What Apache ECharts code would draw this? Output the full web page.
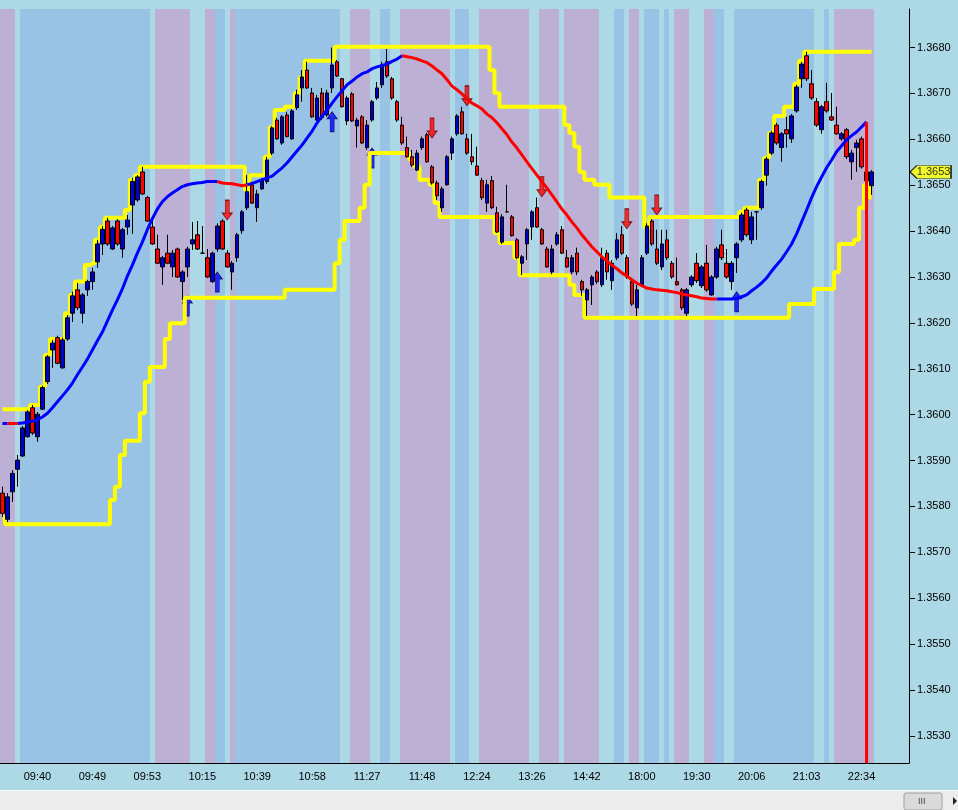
<!DOCTYPE html>
<html><head><meta charset="utf-8">
<script src="https://cdn.jsdelivr.net/npm/echarts@6/dist/echarts.min.js"></script>
<style>html,body{margin:0;padding:0;background:#ADD8E6;}#c{width:958px;height:810px;}</style>
</head><body><div id="c"></div>
<script>
// ---------------- data ----------------
const tickLabels = ['09:40','09:49','09:53','10:15','10:39','10:58','11:27','11:48','12:24','13:26','14:42','18:00','19:30','20:06','21:03','22:34'];
const tickIndex  = [7,18,29,40,51,62,73,84,95,106,117,128,139,150,161,172];
const slotCount = 182;
const yTicks = [1.353,1.354,1.355,1.356,1.357,1.358,1.359,1.360,1.361,1.362,1.363,1.364,1.365,1.366,1.367,1.368];
const yMin = 1.35241, yMax = 1.36884;

const opens = [
1.35829,1.35772,1.35832,1.35881,1.35910,1.35952,1.36015,1.35952,1.36012,1.36072,
1.36141,1.36168,1.36102,1.36165,1.36221,1.36272,1.36221,1.36272,1.36290,1.36333,
1.36372,1.36422,1.36361,1.36422,1.36361,1.36409,1.36457,1.36468,1.36529,1.36473,
1.36409,1.36361,1.36322,1.36352,1.36322,1.36361,1.36290,1.36322,1.36372,1.36392,
1.36352,1.36342,1.36290,1.36361,1.36422,1.36352,1.36311,1.36342,1.36401,1.36451,
1.36501,1.36451,1.36492,1.36508,1.36570,1.36642,1.36592,1.36653,1.36601,1.36669,
1.36712,1.36751,1.36701,1.36642,1.36701,1.36653,1.36712,1.36769,1.36732,1.36640,
1.36699,1.36629,1.36649,1.36582,1.36642,1.36690,1.36719,1.36769,1.36732,1.36682,
1.36631,1.36582,1.36562,1.36533,1.36582,1.36610,1.36540,1.36505,1.36451,1.36501,
1.36570,1.36612,1.36660,1.36601,1.36562,1.36542,1.36510,1.36461,1.36510,1.36440,
1.36376,1.36442,1.36431,1.36381,1.36330,1.36372,1.36409,1.36451,1.36403,1.36361,
1.36311,1.36372,1.36403,1.36342,1.36311,1.36352,1.36290,1.36250,1.36283,1.36311,
1.36283,1.36352,1.36292,1.36342,1.36392,1.36342,1.36290,1.36233,1.36283,1.36352,
1.36422,1.36361,1.36322,1.36381,1.36330,1.36290,1.36272,1.36221,1.36283,1.36330,
1.36281,1.36330,1.36261,1.36300,1.36370,1.36330,1.36290,1.36342,1.36381,1.36446,
1.36381,1.36442,1.36451,1.36522,1.36570,1.36631,1.36582,1.36621,1.36601,1.36662,
1.36732,1.36782,1.36721,1.36682,1.36621,1.36682,1.36649,1.36631,1.36601,1.36621,
1.36551,1.36582,1.36601,1.36529,1.36499];
const highs = [
1.35843,1.35829,1.35879,1.35912,1.35975,1.36010,1.36021,1.36006,1.36063,1.36130,
1.36163,1.36172,1.36168,1.36217,1.36268,1.36287,1.36265,1.36294,1.36320,1.36381,
1.36411,1.36429,1.36411,1.36426,1.36407,1.36435,1.36516,1.36522,1.36540,1.36477,
1.36429,1.36392,1.36346,1.36392,1.36359,1.36364,1.36315,1.36366,1.36420,1.36422,
1.36411,1.36361,1.36355,1.36417,1.36426,1.36359,1.36335,1.36396,1.36446,1.36522,
1.36508,1.36490,1.36516,1.36562,1.36629,1.36647,1.36653,1.36660,1.36666,1.36708,
1.36751,1.36769,1.36712,1.36697,1.36712,1.36708,1.36800,1.36773,1.36734,1.36695,
1.36703,1.36647,1.36653,1.36642,1.36686,1.36725,1.36769,1.36797,1.36736,1.36686,
1.36649,1.36606,1.36577,1.36577,1.36606,1.36614,1.36544,1.36510,1.36497,1.36566,
1.36606,1.36655,1.36671,1.36612,1.36612,1.36584,1.36516,1.36512,1.36520,1.36453,
1.36437,1.36501,1.36435,1.36385,1.36348,1.36407,1.36446,1.36473,1.36407,1.36366,
1.36370,1.36398,1.36411,1.36359,1.36348,1.36364,1.36294,1.36276,1.36304,1.36315,
1.36364,1.36359,1.36337,1.36396,1.36411,1.36348,1.36294,1.36283,1.36348,1.36417,
1.36426,1.36403,1.36403,1.36403,1.36335,1.36342,1.36276,1.36276,1.36304,1.36352,
1.36326,1.36370,1.36304,1.36366,1.36403,1.36361,1.36335,1.36376,1.36440,1.36451,
1.36442,1.36444,1.36512,1.36562,1.36618,1.36636,1.36616,1.36649,1.36655,1.36719,
1.36769,1.36791,1.36751,1.36690,1.36675,1.36723,1.36701,1.36671,1.36616,1.36625,
1.36577,1.36599,1.36606,1.36533,1.36533];
const lows = [
1.35777,1.35766,1.35810,1.35843,1.35908,1.35950,1.35956,1.35941,1.36010,1.36067,
1.36102,1.36110,1.36100,1.36161,1.36202,1.36228,1.36199,1.36259,1.36272,1.36320,
1.36348,1.36368,1.36359,1.36368,1.36342,1.36392,1.36394,1.36464,1.36479,1.36420,
1.36370,1.36328,1.36283,1.36328,1.36300,1.36298,1.36250,1.36300,1.36359,1.36359,
1.36350,1.36298,1.36287,1.36355,1.36359,1.36320,1.36272,1.36333,1.36394,1.36446,
1.36459,1.36420,1.36490,1.36503,1.36566,1.36599,1.36588,1.36604,1.36599,1.36664,
1.36682,1.36710,1.36647,1.36640,1.36642,1.36649,1.36701,1.36736,1.36669,1.36631,
1.36638,1.36582,1.36590,1.36577,1.36638,1.36686,1.36712,1.36734,1.36686,1.36638,
1.36588,1.36560,1.36540,1.36531,1.36577,1.36549,1.36501,1.36468,1.36442,1.36499,
1.36555,1.36608,1.36610,1.36566,1.36544,1.36520,1.36468,1.36442,1.36448,1.36396,
1.36372,1.36440,1.36388,1.36339,1.36304,1.36337,1.36381,1.36407,1.36370,1.36320,
1.36306,1.36368,1.36350,1.36320,1.36306,1.36304,1.36259,1.36215,1.36239,1.36285,
1.36278,1.36294,1.36272,1.36337,1.36348,1.36296,1.36237,1.36215,1.36278,1.36348,
1.36368,1.36326,1.36315,1.36337,1.36296,1.36281,1.36228,1.36215,1.36278,1.36287,
1.36276,1.36268,1.36259,1.36296,1.36337,1.36296,1.36272,1.36309,1.36376,1.36388,
1.36372,1.36381,1.36446,1.36499,1.36566,1.36588,1.36551,1.36582,1.36592,1.36658,
1.36712,1.36727,1.36686,1.36627,1.36612,1.36658,1.36640,1.36610,1.36597,1.36557,
1.36512,1.36529,1.36536,1.36505,1.36479];
const closes = [
1.35785,1.35821,1.35872,1.35901,1.35971,1.36006,1.35960,1.36001,1.36059,1.36126,
1.36156,1.36112,1.36163,1.36211,1.36259,1.36233,1.36261,1.36290,1.36311,1.36372,
1.36404,1.36372,1.36407,1.36372,1.36403,1.36424,1.36508,1.36518,1.36481,1.36422,
1.36372,1.36330,1.36342,1.36330,1.36352,1.36300,1.36311,1.36361,1.36381,1.36361,
1.36352,1.36300,1.36352,1.36411,1.36361,1.36322,1.36330,1.36392,1.36442,1.36486,
1.36461,1.36481,1.36512,1.36555,1.36625,1.36601,1.36649,1.36606,1.36662,1.36697,
1.36736,1.36712,1.36649,1.36690,1.36647,1.36701,1.36762,1.36738,1.36671,1.36690,
1.36640,1.36642,1.36592,1.36631,1.36682,1.36712,1.36762,1.36738,1.36690,1.36642,
1.36592,1.36562,1.36544,1.36570,1.36601,1.36551,1.36505,1.36477,1.36492,1.36562,
1.36601,1.36651,1.36612,1.36570,1.36551,1.36522,1.36473,1.36501,1.36451,1.36398,
1.36431,1.36442,1.36390,1.36342,1.36344,1.36403,1.36442,1.36409,1.36372,1.36322,
1.36361,1.36392,1.36352,1.36322,1.36342,1.36311,1.36272,1.36272,1.36300,1.36290,
1.36342,1.36311,1.36330,1.36381,1.36352,1.36300,1.36241,1.36272,1.36342,1.36411,
1.36372,1.36330,1.36372,1.36342,1.36300,1.36283,1.36233,1.36272,1.36300,1.36292,
1.36322,1.36272,1.36300,1.36361,1.36342,1.36300,1.36330,1.36372,1.36435,1.36392,
1.36431,1.36442,1.36508,1.36557,1.36614,1.36592,1.36612,1.36612,1.36651,1.36714,
1.36764,1.36732,1.36690,1.36631,1.36671,1.36662,1.36642,1.36612,1.36612,1.36562,
1.36570,1.36592,1.36540,1.36510,1.36529];

const upperBand = [
1.36012,1.36012,1.36012,1.36012,1.36012,1.36012,1.36021,1.36021,1.36061,1.36130,
1.36165,1.36165,1.36165,1.36221,1.36261,1.36290,1.36290,1.36326,1.36330,1.36381,
1.36409,1.36429,1.36429,1.36429,1.36429,1.36446,1.36512,1.36522,1.36540,1.36540,
1.36540,1.36540,1.36540,1.36540,1.36540,1.36540,1.36540,1.36540,1.36540,1.36540,
1.36540,1.36540,1.36540,1.36540,1.36540,1.36540,1.36540,1.36540,1.36540,1.36490,
1.36522,1.36522,1.36522,1.36562,1.36627,1.36664,1.36664,1.36671,1.36671,1.36701,
1.36734,1.36771,1.36771,1.36771,1.36771,1.36771,1.36771,1.36802,1.36802,1.36802,
1.36802,1.36802,1.36802,1.36802,1.36802,1.36802,1.36802,1.36802,1.36802,1.36802,
1.36802,1.36802,1.36802,1.36802,1.36802,1.36802,1.36802,1.36802,1.36802,1.36802,
1.36802,1.36802,1.36802,1.36802,1.36802,1.36802,1.36802,1.36802,1.36751,1.36701,
1.36671,1.36671,1.36671,1.36671,1.36671,1.36671,1.36671,1.36671,1.36671,1.36671,
1.36671,1.36671,1.36671,1.36631,1.36614,1.36584,1.36529,1.36512,1.36512,1.36501,
1.36501,1.36501,1.36473,1.36473,1.36473,1.36473,1.36473,1.36473,1.36473,1.36409,
1.36431,1.36431,1.36431,1.36431,1.36431,1.36431,1.36431,1.36431,1.36431,1.36431,
1.36431,1.36431,1.36431,1.36431,1.36431,1.36431,1.36431,1.36431,1.36442,1.36451,
1.36451,1.36451,1.36512,1.36560,1.36614,1.36651,1.36651,1.36671,1.36671,1.36721,
1.36771,1.36791,1.36791,1.36791,1.36791,1.36791,1.36791,1.36791,1.36791,1.36791,
1.36791,1.36791,1.36791,1.36791,1.36791];
const lowerBand = [
1.35777,1.35761,1.35761,1.35761,1.35761,1.35761,1.35761,1.35761,1.35761,1.35761,
1.35761,1.35761,1.35761,1.35761,1.35761,1.35761,1.35761,1.35761,1.35761,1.35761,
1.35761,1.35761,1.35814,1.35843,1.35912,1.35943,1.35943,1.35943,1.36003,1.36072,
1.36104,1.36104,1.36104,1.36165,1.36199,1.36199,1.36199,1.36255,1.36255,1.36255,
1.36255,1.36255,1.36255,1.36255,1.36255,1.36255,1.36255,1.36255,1.36255,1.36255,
1.36255,1.36255,1.36255,1.36255,1.36255,1.36255,1.36255,1.36272,1.36272,1.36272,
1.36272,1.36272,1.36272,1.36272,1.36272,1.36272,1.36272,1.36330,1.36381,1.36422,
1.36422,1.36422,1.36451,1.36501,1.36570,1.36570,1.36570,1.36570,1.36570,1.36570,
1.36570,1.36570,1.36555,1.36540,1.36512,1.36512,1.36501,1.36461,1.36431,1.36431,
1.36431,1.36431,1.36431,1.36431,1.36431,1.36431,1.36431,1.36431,1.36431,1.36396,
1.36374,1.36374,1.36374,1.36342,1.36304,1.36304,1.36304,1.36304,1.36304,1.36304,
1.36304,1.36304,1.36304,1.36304,1.36283,1.36261,1.36261,1.36211,1.36211,1.36211,
1.36211,1.36211,1.36211,1.36211,1.36211,1.36211,1.36211,1.36211,1.36211,1.36211,
1.36211,1.36211,1.36211,1.36211,1.36211,1.36211,1.36211,1.36211,1.36211,1.36211,
1.36211,1.36211,1.36211,1.36211,1.36211,1.36211,1.36211,1.36211,1.36211,1.36211,
1.36211,1.36211,1.36211,1.36211,1.36211,1.36211,1.36211,1.36211,1.36241,1.36241,
1.36241,1.36241,1.36241,1.36274,1.36274,1.36274,1.36274,1.36311,1.36372,1.36372,
1.36372,1.36381,1.36451,1.36501,1.36473];

const midLine = [
1.35981,1.35981,1.35981,1.35981,1.35982,1.35984,1.35986,1.35989,1.35995,1.36003,
1.36015,1.36028,1.36041,1.36054,1.36069,1.36087,1.36104,1.36121,1.36141,1.36161,
1.36180,1.36204,1.36228,1.36250,1.36274,1.36302,1.36326,1.36352,1.36376,1.36403,
1.36427,1.36448,1.36464,1.36475,1.36483,1.36490,1.36497,1.36501,1.36503,1.36505,
1.36506,1.36508,1.36508,1.36508,1.36505,1.36504,1.36503,1.36501,1.36499,1.36501,
1.36504,1.36508,1.36512,1.36516,1.36520,1.36529,1.36538,1.36549,1.36562,1.36575,
1.36588,1.36603,1.36618,1.36636,1.36651,1.36664,1.36679,1.36693,1.36706,1.36719,
1.36727,1.36736,1.36743,1.36747,1.36754,1.36758,1.36761,1.36764,1.36770,1.36775,
1.36782,1.36780,1.36778,1.36775,1.36771,1.36767,1.36760,1.36751,1.36743,1.36730,
1.36716,1.36708,1.36699,1.36688,1.36679,1.36673,1.36666,1.36655,1.36647,1.36636,
1.36623,1.36610,1.36594,1.36581,1.36566,1.36551,1.36536,1.36522,1.36508,1.36494,
1.36479,1.36464,1.36448,1.36435,1.36420,1.36407,1.36392,1.36379,1.36366,1.36355,
1.36344,1.36335,1.36326,1.36318,1.36309,1.36302,1.36294,1.36287,1.36281,1.36276,
1.36274,1.36272,1.36271,1.36270,1.36268,1.36266,1.36263,1.36261,1.36259,1.36257,
1.36254,1.36253,1.36252,1.36252,1.36252,1.36252,1.36252,1.36253,1.36257,1.36261,
1.36270,1.36278,1.36287,1.36298,1.36313,1.36326,1.36339,1.36355,1.36372,1.36394,
1.36420,1.36446,1.36473,1.36497,1.36518,1.36538,1.36555,1.36573,1.36586,1.36599,
1.36608,1.36616,1.36627,1.36638];
const midFallingSpans = [[1,3],[43,49],[80,143]];

const sellIdx = [45,86,93,108,125,131];
const sellAt  = [1.36424,1.36603,1.36673,1.36475,1.36405,1.36435];
const buyIdx  = [37,43,66,74,147];
const buyAt   = [1.36259,1.36311,1.36660,1.36581,1.36268];

// zone runs: [type, number of bars]; P = purple, B = blue, L = neutral
const zoneRuns = [['P',3],['L',1],['B',26],['L',1],['P',7],['L',3],['P',2],['B',2],['L',1],['P',1],
['B',21],['L',2],['P',4],['L',2],['B',2],['L',2],['P',10],['L',1],['B',3],['L',2],['P',10],['L',2],
['P',4],['L',1],['P',7],['L',3],['B',2],['L',1],['P',2],['L',1],['B',3],['L',1],['B',1],['L',1],
['P',3],['L',3],['P',2],['B',2],['L',2],['B',16],['L',2],['B',1],['L',1],['P',8]];

// ---------------- build ----------------
const zoneColor = {P:'#BDB0D5', B:'#98C3E4'};
const zoneData = [];
let startBar = 0;
zoneRuns.forEach(r => {
  if (r[0] !== 'L') zoneData.push({value: [startBar, yMin, startBar + r[1] - 1], zone: r[0]});
  startBar += r[1];
});

const categories = [];
for (let i = 0; i < slotCount; i++) categories.push(String(i));
const labelOf = {};
tickIndex.forEach((t, k) => { labelOf[t] = tickLabels[k]; });

const candleData = opens.map((o, i) => [o, closes[i], lows[i], highs[i]]);
const inFalling = i => midFallingSpans.some(s => i >= s[0] && i <= s[1]);
const insideFalling = i => midFallingSpans.some(s => i > s[0] && i < s[1]);
const midRed = midLine.map((v, i) => inFalling(i) ? v : null);
const midBlue = midLine.map((v, i) => insideFalling(i) ? null : v);
const lastMid = midLine.length - 1;
const lastIdx = closes.length - 1;

const downArrow = 'path://M3,0 L7,0 L7,13 L10,13 L5,20 L0,13 L3,13 Z';
const upArrow = 'path://M5,0 L10,7 L7,7 L7,20 L3,20 L3,7 L0,7 Z';
const font = 'Liberation Sans, Arial, sans-serif';

const chart = echarts.init(document.getElementById('c'));
chart.setOption({
  animation: false,
  backgroundColor: '#ADD8E6',
  grid: {left: -1, top: 9, width: 910, height: 754, containLabel: false},
  xAxis: {
    type: 'category', data: categories, boundaryGap: true,
    axisLine: {lineStyle: {color: '#000', width: 1}},
    axisTick: {alignWithLabel: true, length: 5, lineStyle: {color: '#000'},
      interval: (idx) => labelOf[idx] !== undefined},
    axisLabel: {interval: (idx) => labelOf[idx] !== undefined,
      formatter: (v, idx) => labelOf[idx] || '', color: '#000', fontSize: 11, fontFamily: font, margin: 8},
    splitLine: {show: false}
  },
  yAxis: {
    type: 'value', position: 'right', min: yMin, max: yMax, scale: true,
    axisLine: {show: true, lineStyle: {color: '#000', width: 1}},
    axisTick: {show: true, length: 6, customValues: yTicks, lineStyle: {color: '#000'}},
    axisLabel: {customValues: yTicks, formatter: v => v.toFixed(4), color: '#000', fontSize: 11, fontFamily: font, margin: 8},
    splitLine: {show: false}
  },
  series: [
    {type: 'custom', name: 'zones', z: 1, silent: true,
      data: zoneData,
      encode: {x: 0, y: 1},
      renderItem: (params, api) => {
        const z = zoneData[params.dataIndex].zone;
        const a = api.coord([api.value(0), api.value(1)]);
        const b = api.coord([api.value(2), api.value(1)]);
        const w = api.size([1, 0])[0];
        const cs = params.coordSys;
        const x0 = Math.round(a[0] - w / 2), x1 = Math.round(b[0] + w / 2);
        return {type: 'rect', shape: {x: x0, y: cs.y, width: x1 - x0, height: cs.height},
          style: {fill: zoneColor[z]}};
      }},
    {type: 'scatter', name: 'sell', z: 2, symbol: downArrow, symbolSize: [10, 20], symbolOffset: [0, -10],
      data: sellIdx.map((i, k) => [i, sellAt[k]]),
      itemStyle: {color: '#FF0000', borderColor: '#5a0000', borderWidth: 0.8}},
    {type: 'scatter', name: 'buy', z: 2, symbol: upArrow, symbolSize: [10, 20], symbolOffset: [0, 10],
      data: buyIdx.map((i, k) => [i, buyAt[k]]),
      itemStyle: {color: '#0000FF', borderColor: '#00005a', borderWidth: 0.8}},
    {type: 'line', name: 'upper', z: 3, step: 'middle', showSymbol: false, symbol: 'none', data: upperBand,
      lineStyle: {color: '#FFFF00', width: 4}},
    {type: 'line', name: 'lower', z: 3, step: 'middle', showSymbol: false, symbol: 'none', data: lowerBand,
      lineStyle: {color: '#FFFF00', width: 4}},
    {type: 'candlestick', name: 'price', z: 4, data: candleData, barWidth: 4,
      itemStyle: {color: '#0000CD', color0: '#FF0000', borderColor: '#000', borderColor0: '#000', borderWidth: 1}},
    {type: 'line', name: 'midUp', z: 5, symbol: 'none', data: midBlue, connectNulls: false,
      lineStyle: {color: '#0000FF', width: 3}},
    {type: 'line', name: 'midDown', z: 5, symbol: 'none', data: midRed, connectNulls: false,
      lineStyle: {color: '#FF0000', width: 3}},
    {type: 'line', name: 'midDrop', z: 6, symbol: 'none',
      data: [[lastMid, midLine[lastMid]], [lastMid, yMin]],
      lineStyle: {color: '#FF0000', width: 3}},
    {type: 'scatter', name: 'lastTag', z: 10, clip: false,
      symbol: 'path://M0,7 L7,0 L42,0 L42,14 L7,14 Z', symbolSize: [41, 13], symbolOffset: [59, 0],
      data: [[lastIdx, closes[lastIdx]]],
      itemStyle: {color: '#FFFF00', borderColor: '#000', borderWidth: 1},
      label: {show: true, position: 'inside', offset: [3, 0], color: '#000', fontSize: 11, fontFamily: font,
        formatter: p => p.value[1].toFixed(4)}}
  ],
  graphic: [
    {type: 'rect', shape: {x: 0, y: 790, width: 958, height: 20}, style: {fill: '#ECECEC'}, z: 100},
    {type: 'line', shape: {x1: 0, y1: 790.5, x2: 958, y2: 790.5}, style: {stroke: '#FAFAFA', lineWidth: 1}, z: 101},
    {type: 'rect', shape: {x: 904, y: 793, width: 38, height: 17, r: 2},
      style: {fill: '#DADADA', stroke: '#A0A0A0', lineWidth: 1}, z: 101},
    {type: 'text', x: 918, y: 797, style: {text: 'III', fill: '#444', fontSize: 9, fontFamily: font}, z: 102},
    {type: 'polygon', shape: {points: [[953, 797], [957, 801], [953, 805]]}, style: {fill: '#222'}, z: 102}
  ]
});
</script></body></html>
